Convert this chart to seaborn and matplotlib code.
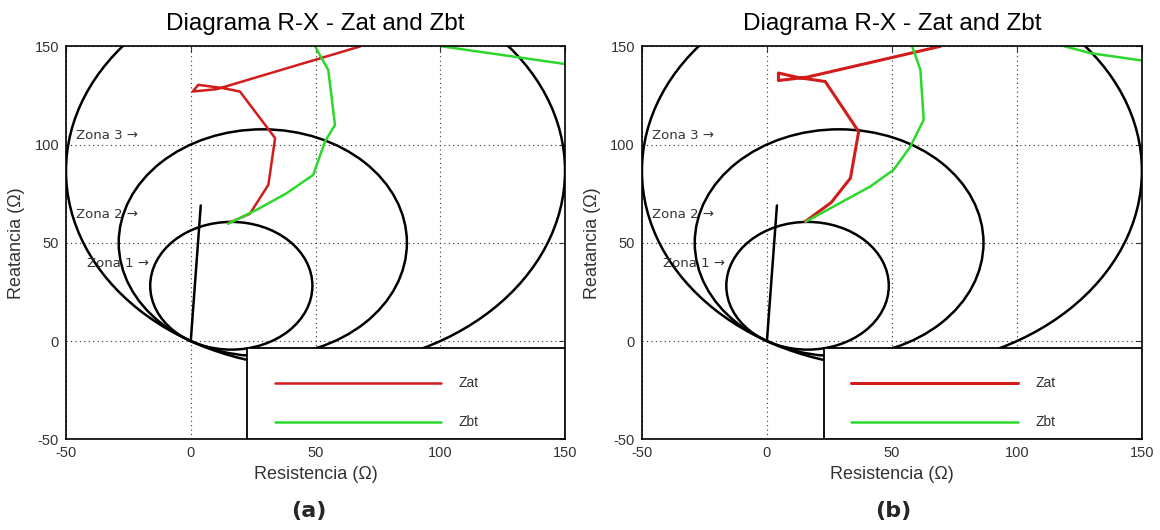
import numpy as np
import seaborn as sns
import matplotlib.pyplot as plt
from matplotlib.patches import Circle, Rectangle

sns.set_style("white")
plt.rcParams['font.family'] = ['Liberation Sans', 'DejaVu Sans']
plt.rcParams['axes.unicode_minus'] = False

# mho zones (reach in ohm along the characteristic angle)
zone_reach = [65.0, 115.5, 200.0]
mho_angle = 60.0
zone_names = ["Zona 1 →", "Zona 2 →", "Zona 3 →"]
zone_label_r = [-41.5, -46.0, -46.0]
zone_label_x = [39.3, 64.6, 104.8]

# line impedance
line_r = [0.0, 4.0]
line_x = [0.0, 69.0]

# (a)
zat_a_r = [68.0, 10.4, 0.8, 3.0, 13.0, 19.7, 33.8, 31.1, 23.7, 15.0]
zat_a_x = [150.0, 128.2, 127.0, 130.4, 128.7, 127.0, 103.3, 79.5, 64.8, 60.0]
zbt_a_r = [15.0, 26.4, 38.5, 49.1, 53.8, 57.8, 55.1, 49.8]
zbt_a_x = [59.7, 66.8, 75.3, 84.6, 101.6, 110.0, 138.0, 150.0]
zbt_a_top_r = [100.6, 150.0]
zbt_a_top_x = [150.0, 141.0]

# (b)
zat_b_r = [69.4, 16.0, 4.6, 4.6, 13.0, 23.3, 36.7, 33.4, 25.7, 15.3]
zat_b_x = [150.0, 134.3, 132.6, 136.4, 134.0, 132.1, 106.6, 82.9, 70.5, 60.8]
zbt_b_r = [15.6, 26.7, 41.4, 50.7, 57.4, 62.7, 61.4, 58.1]
zbt_b_x = [60.8, 68.5, 78.7, 87.2, 99.0, 112.6, 138.0, 150.0]
zbt_b_top_r = [119.1, 129.5, 150.0]
zbt_b_top_x = [150.0, 146.5, 142.8]

ticks = [-50, 0, 50, 100, 150]
red = '#d21c1c'
green = '#2cd82c'


def draw_panel(ax, zat_r, zat_x, zbt_r, zbt_x, top_r, top_x, zat_lw):
    ang = np.deg2rad(mho_angle)
    for z in zone_reach:
        c = (z / 2 * np.cos(ang), z / 2 * np.sin(ang))
        ax.add_patch(Circle(c, z / 2, fill=False, ec='black', lw=1.8, zorder=2))
    sns.lineplot(x=line_r, y=line_x, color='black', lw=1.8, ax=ax)
    sns.lineplot(x=zat_r, y=zat_x, sort=False, estimator=None, color=red, lw=zat_lw, ax=ax)
    h_zat = ax.lines[-1]
    sns.lineplot(x=zbt_r, y=zbt_x, sort=False, estimator=None, color=green, lw=1.8, ax=ax)
    h_zbt = ax.lines[-1]
    sns.lineplot(x=top_r, y=top_x, sort=False, estimator=None, color=green, lw=1.8, ax=ax)

    for name, r, x in zip(zone_names, zone_label_r, zone_label_x):
        ax.text(r, x, name, fontsize=9.5, va='center', ha='left',
                family=['DejaVu Sans'], color='#333333', zorder=4)

    ax.add_patch(Rectangle((0.3635, 0.0), 0.6365, 0.2325, transform=ax.transAxes,
                           fc='white', ec='black', lw=1.3, zorder=3))
    leg = ax.legend([h_zat, h_zbt], ['Zat', 'Zbt'], loc='center left',
                    bbox_to_anchor=(0.418, 0.0925), frameon=False, fontsize=10,
                    handlelength=12.0, handletextpad=1.27, labelspacing=1.8,
                    borderpad=0, borderaxespad=0)
    for t in leg.get_texts():
        t.set_color('#333333')

    ax.set_xlim(-50, 150)
    ax.set_ylim(-50, 150)
    ax.set_xticks(ticks)
    ax.set_yticks(ticks)
    ax.grid(True, color='#333333', linestyle=(0, (1, 3)), lw=0.8)
    ax.tick_params(direction='in', top=True, right=True, length=4, width=0.8,
                   labelsize=10.5, colors='#333333', pad=5)
    for s in ax.spines.values():
        s.set_color('black')
        s.set_linewidth(1.2)
    ax.set_title("Diagrama R-X - Zat and Zbt", fontsize=17.5, pad=12, color='black')
    ax.set_xlabel("Resistencia (Ω)", fontsize=13, labelpad=4, color='#333333')
    ax.set_ylabel("Reatancia (Ω)", fontsize=13, labelpad=7, color='#333333')


fig = plt.figure(figsize=(11.6, 5.3), dpi=100)
ax1 = fig.add_axes([0.0569, 0.1711, 0.4302, 0.7415])
ax2 = fig.add_axes([0.5534, 0.1711, 0.4310, 0.7415])

draw_panel(ax1, zat_a_r, zat_a_x, zbt_a_r, zbt_a_x, zbt_a_top_r, zbt_a_top_x, 1.8)
draw_panel(ax2, zat_b_r, zat_b_x, zbt_b_r, zbt_b_x, zbt_b_top_r, zbt_b_top_x, 2.2)

fig.text(0.2664, 0.036, "(a)", fontsize=16, fontweight='bold', ha='center',
         va='center', family=['DejaVu Sans'])
fig.text(0.7698, 0.036, "(b)", fontsize=16, fontweight='bold', ha='center',
         va='center', family=['DejaVu Sans'])

fig.savefig("out.png", dpi=100)
